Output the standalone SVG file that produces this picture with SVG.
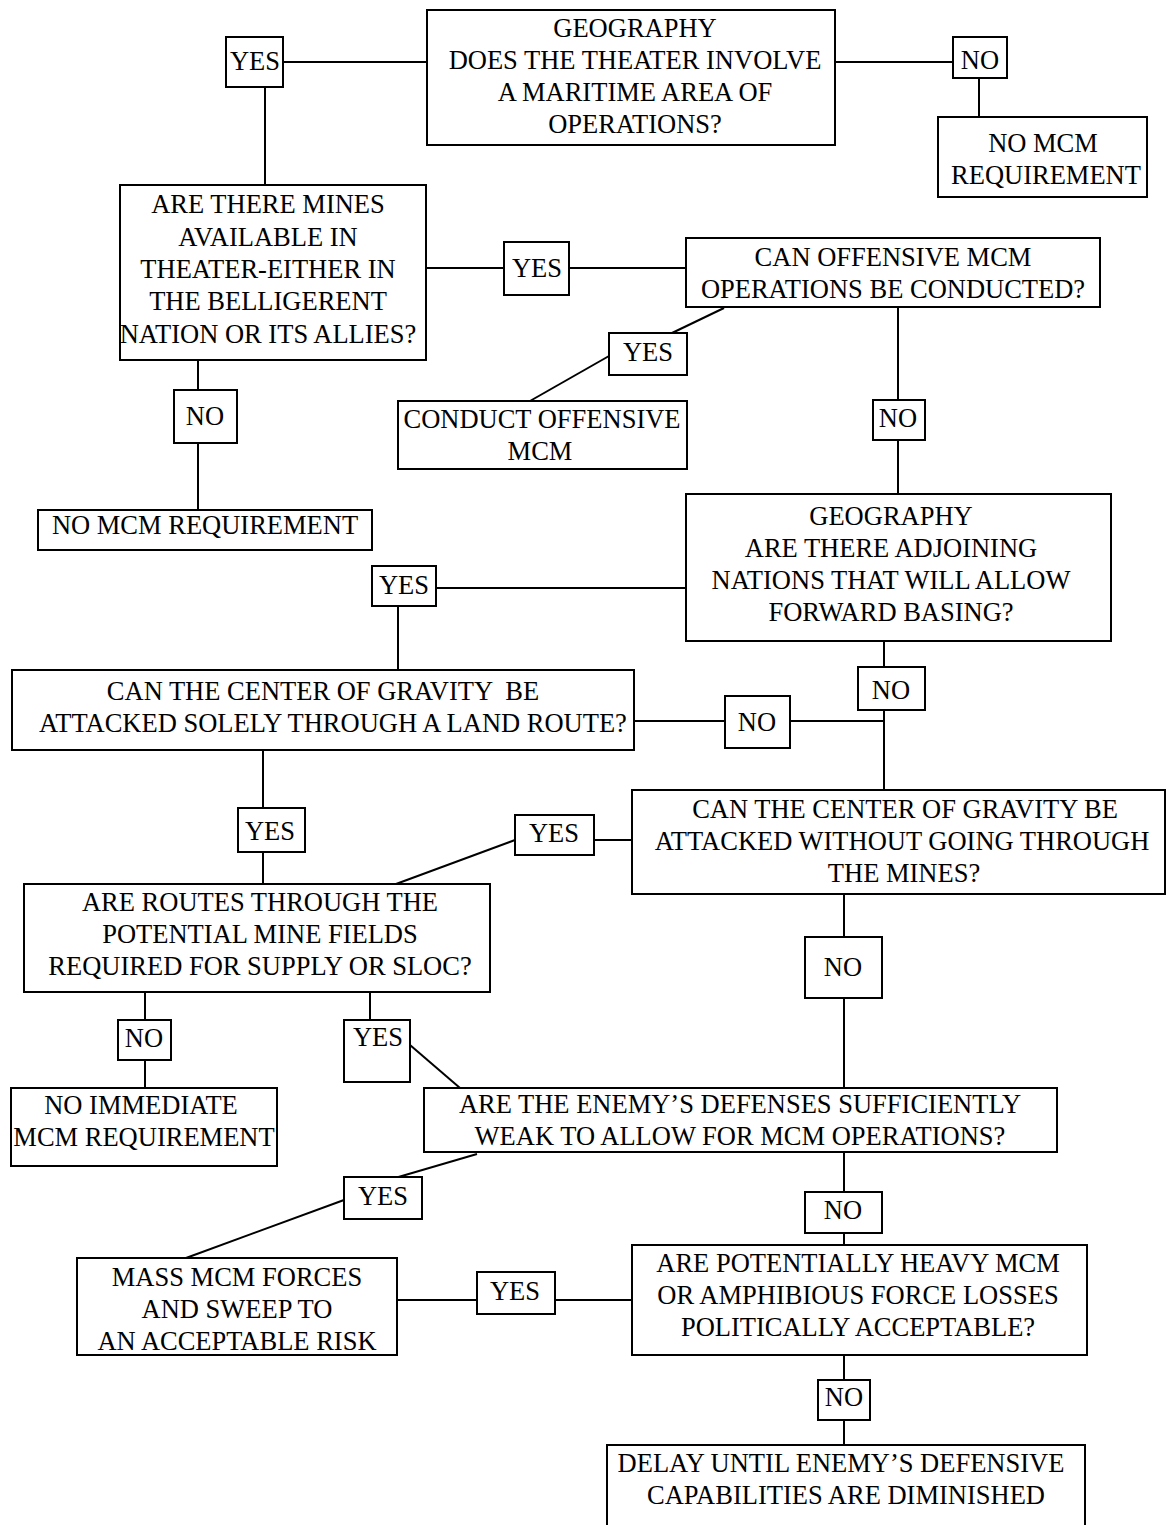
<svg xmlns="http://www.w3.org/2000/svg" width="1166" height="1525" viewBox="0 0 1166 1525">
<style>
rect{fill:#fff;stroke:#000;stroke-width:2}
line{stroke:#000;stroke-width:2}
text{font-family:"Liberation Serif","Times New Roman",serif;font-size:26.5px;fill:#000;text-anchor:middle}
</style>
<rect x="0" y="0" width="1166" height="1525" style="stroke:none"/>
<g id="connectors">
<line x1="283" y1="62" x2="427" y2="62"/>
<line x1="265" y1="87" x2="265" y2="185"/>
<line x1="835" y1="62" x2="953" y2="62"/>
<line x1="979" y1="78" x2="979" y2="117"/>
<line x1="426" y1="268" x2="504" y2="268"/>
<line x1="569" y1="268" x2="686" y2="268"/>
<line x1="724" y1="308" x2="672" y2="333"/>
<line x1="609" y1="356" x2="530" y2="401"/>
<line x1="898" y1="307" x2="898" y2="400"/>
<line x1="898" y1="440" x2="898" y2="494"/>
<line x1="198" y1="360" x2="198" y2="390"/>
<line x1="198" y1="443" x2="198" y2="510"/>
<line x1="436" y1="588" x2="686" y2="588"/>
<line x1="398" y1="606" x2="398" y2="670"/>
<line x1="884" y1="641" x2="884" y2="667"/>
<line x1="884" y1="710" x2="884" y2="790"/>
<line x1="634" y1="721" x2="725" y2="721"/>
<line x1="790" y1="721" x2="884" y2="721"/>
<line x1="263" y1="750" x2="263" y2="808"/>
<line x1="263" y1="852" x2="263" y2="884"/>
<line x1="594" y1="840" x2="632" y2="840"/>
<line x1="515" y1="840" x2="396" y2="884"/>
<line x1="844" y1="894" x2="844" y2="937"/>
<line x1="844" y1="998" x2="844" y2="1088"/>
<line x1="145" y1="992" x2="145" y2="1020"/>
<line x1="145" y1="1060" x2="145" y2="1088"/>
<line x1="370" y1="992" x2="370" y2="1020"/>
<line x1="410" y1="1045" x2="460" y2="1088"/>
<line x1="477" y1="1154" x2="395" y2="1178"/>
<line x1="344" y1="1200" x2="186" y2="1258"/>
<line x1="844" y1="1152" x2="844" y2="1192"/>
<line x1="844" y1="1233" x2="844" y2="1245"/>
<line x1="397" y1="1300" x2="477" y2="1300"/>
<line x1="555" y1="1300" x2="632" y2="1300"/>
<line x1="844" y1="1355" x2="844" y2="1380"/>
<line x1="844" y1="1420" x2="844" y2="1445"/>
</g>
<g id="geography1"><rect x="427" y="10" width="408" height="135"/>
<text x="635" y="37">GEOGRAPHY</text><text x="635" y="69">DOES THE THEATER INVOLVE</text><text x="635" y="101">A MARITIME AREA OF</text><text x="635" y="133">OPERATIONS?</text></g>
<g id="yes1"><rect x="226" y="37" width="57" height="50"/><text x="255" y="70">YES</text></g>
<g id="no1"><rect x="953" y="37" width="54" height="41"/><text x="980" y="69">NO</text></g>
<g id="nomcm1"><rect x="938" y="117" width="209" height="80"/><text x="1043" y="152">NO MCM</text><text x="1046" y="184">REQUIREMENT</text></g>
<g id="mines"><rect x="120" y="185" width="306" height="175"/>
<text x="268" y="213">ARE THERE MINES</text><text x="268" y="246">AVAILABLE IN</text><text x="268" y="278">THEATER-EITHER IN</text><text x="268" y="310">THE BELLIGERENT</text><text x="268" y="343">NATION OR ITS ALLIES?</text></g>
<g id="yes2"><rect x="504" y="242" width="65" height="53"/><text x="537" y="277">YES</text></g>
<g id="offensive"><rect x="686" y="238" width="414" height="69"/><text x="893" y="266">CAN OFFENSIVE MCM</text><text x="893" y="298">OPERATIONS BE CONDUCTED?</text></g>
<g id="yes3"><rect x="609" y="333" width="78" height="42"/><text x="648" y="361">YES</text></g>
<g id="conduct"><rect x="398" y="401" width="289" height="68"/><text x="542" y="428">CONDUCT OFFENSIVE</text><text x="540" y="460">MCM</text></g>
<g id="no2"><rect x="873" y="400" width="52" height="40"/><text x="898" y="427">NO</text></g>
<g id="no3"><rect x="174" y="390" width="63" height="53"/><text x="205" y="425">NO</text></g>
<g id="nomcm2"><rect x="38" y="510" width="334" height="40"/><text x="205" y="534">NO MCM REQUIREMENT</text></g>
<g id="geography2"><rect x="686" y="494" width="425" height="147"/>
<text x="891" y="525">GEOGRAPHY</text><text x="891" y="557">ARE THERE ADJOINING</text><text x="891" y="589">NATIONS THAT WILL ALLOW</text><text x="891" y="621">FORWARD BASING?</text></g>
<g id="yes4"><rect x="372" y="566" width="64" height="40"/><text x="404" y="594">YES</text></g>
<g id="landroute"><rect x="12" y="670" width="622" height="80"/><text x="323" y="700" style="white-space:pre" xml:space="preserve">CAN THE CENTER OF GRAVITY  BE</text><text x="333" y="732">ATTACKED SOLELY THROUGH A LAND ROUTE?</text></g>
<g id="no4"><rect x="858" y="667" width="67" height="43"/><text x="891" y="699">NO</text></g>
<g id="no5"><rect x="725" y="696" width="65" height="52"/><text x="757" y="731">NO</text></g>
<g id="withoutmines"><rect x="632" y="790" width="533" height="104"/><text x="905" y="818">CAN THE CENTER OF GRAVITY BE</text><text x="902" y="850">ATTACKED WITHOUT GOING THROUGH</text><text x="904" y="882">THE MINES?</text></g>
<g id="yes5"><rect x="238" y="808" width="67" height="44"/><text x="270" y="840">YES</text></g>
<g id="yes6"><rect x="515" y="815" width="79" height="40"/><text x="554" y="842">YES</text></g>
<g id="routes"><rect x="24" y="884" width="466" height="108"/><text x="260" y="911">ARE ROUTES THROUGH THE</text><text x="260" y="943">POTENTIAL MINE FIELDS</text><text x="260" y="975">REQUIRED FOR SUPPLY OR SLOC?</text></g>
<g id="no6"><rect x="805" y="937" width="77" height="61"/><text x="843" y="976">NO</text></g>
<g id="no7"><rect x="118" y="1020" width="53" height="40"/><text x="144" y="1047">NO</text></g>
<g id="yes7"><rect x="344" y="1020" width="66" height="62"/><text x="378" y="1046">YES</text></g>
<g id="noimmediate"><rect x="11" y="1088" width="266" height="78"/><text x="141" y="1114">NO IMMEDIATE</text><text x="144" y="1146">MCM REQUIREMENT</text></g>
<g id="defenses"><rect x="424" y="1088" width="633" height="64"/><text x="740" y="1113">ARE THE ENEMY’S DEFENSES SUFFICIENTLY</text><text x="740" y="1145">WEAK TO ALLOW FOR MCM OPERATIONS?</text></g>
<g id="yes8"><rect x="344" y="1177" width="78" height="42"/><text x="383" y="1205">YES</text></g>
<g id="no8"><rect x="805" y="1192" width="77" height="41"/><text x="843" y="1219">NO</text></g>
<g id="mass"><rect x="77" y="1258" width="320" height="97"/><text x="237" y="1286">MASS MCM FORCES</text><text x="237" y="1318">AND SWEEP TO</text><text x="237" y="1350">AN ACCEPTABLE RISK</text></g>
<g id="yes9"><rect x="477" y="1272" width="78" height="42"/><text x="515" y="1300">YES</text></g>
<g id="losses"><rect x="632" y="1245" width="455" height="110"/><text x="858" y="1272">ARE POTENTIALLY HEAVY MCM</text><text x="858" y="1304">OR AMPHIBIOUS FORCE LOSSES</text><text x="858" y="1336">POLITICALLY ACCEPTABLE?</text></g>
<g id="no9"><rect x="818" y="1380" width="52" height="40"/><text x="844" y="1406">NO</text></g>
<g id="delay"><rect x="607" y="1445" width="478" height="90"/><text x="841" y="1472">DELAY UNTIL ENEMY’S DEFENSIVE</text><text x="846" y="1504">CAPABILITIES ARE DIMINISHED</text></g>
</svg>
